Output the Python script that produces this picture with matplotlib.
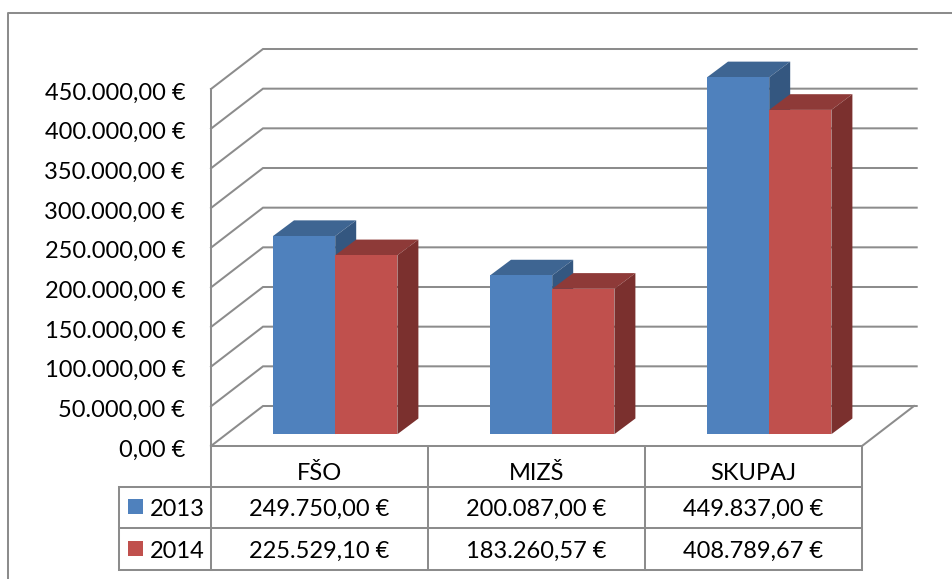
import matplotlib
matplotlib.use("Agg")
import matplotlib.pyplot as plt
from matplotlib.transforms import Affine2D, ScaledTranslation

categories = ["FŠO", "MIZŠ", "SKUPAJ"]
years = ["2013", "2014"]
values_2013 = [249750.00, 200087.00, 449837.00]
values_2014 = [225529.10, 183260.57, 408789.67]
table_2013 = ["249.750,00 €", "200.087,00 €", "449.837,00 €"]
table_2014 = ["225.529,10 €", "183.260,57 €", "408.789,67 €"]
tick_values = [0, 50000, 100000, 150000, 200000, 250000, 300000, 350000, 400000, 450000]
tick_labels = ["0,00 €", "50.000,00 €", "100.000,00 €", "150.000,00 €", "200.000,00 €",
               "250.000,00 €", "300.000,00 €", "350.000,00 €", "400.000,00 €", "450.000,00 €"]

W, H = 953, 579
GRAY = "#8C8C8C"
FONT = "Lato"
FS = 17
plt.rcParams["font.family"] = [FONT, "DejaVu Sans"]

fig = plt.figure(figsize=(W / 100, H / 100), dpi=100)
L, R, T, B = 211, 862, 89, 446
ax = fig.add_axes([L / W, 1 - B / H, (R - L) / W, (B - T) / H])
ax.set_xlim(0, 3)
ax.set_ylim(0, 450000)
ax.patch.set_visible(False)
for s in ax.spines.values():
    s.set_visible(False)
ax.set_xticks([])
ax.set_yticks(tick_values)
ax.set_yticklabels(tick_labels, fontsize=FS, color="black")
ax.tick_params(axis="y", length=0, pad=18.5)
for lab in ax.get_yticklabels():
    lab.set_transform(lab.get_transform() + ScaledTranslation(0, -1.5 / 72, fig.dpi_scale_trans))

px = Affine2D().scale(1 / W, -1 / H).translate(0, 1) + fig.transFigure


def dx(p):
    return p * 3 / (R - L)


def dy(p):
    return p * 450000 / (B - T)


LW = 1.45
# walls and gridlines
wx, wy = dx(52), dy(40)
for v in tick_values:
    ax.plot([0, wx, dx(705.7)], [v, v + wy, v + wy], color=GRAY, lw=LW, clip_on=False,
            solid_joinstyle="miter", zorder=1)
ax.plot([0, 0], [0, 450000], color=GRAY, lw=LW, clip_on=False, zorder=1)
ax.plot([3, 3 + wx], [0, wy], color=GRAY, lw=LW, clip_on=False, zorder=1)
ax.plot([0, 3], [0, 0], color=GRAY, lw=LW, clip_on=False, zorder=1)

# 3D bars
BW = dx(62.2)
bx0 = dx(62)
by0 = dy(11.8)
ddx, ddy = dx(21), dy(15.7)
series = [
    (values_2013, 0, "#4F81BD", "#3E6592", "#345780"),
    (values_2014, 1, "#C0504D", "#8E3A38", "#7B302E"),
]
for vals, k, front, top, side in series:
    for i, v in enumerate(vals):
        x0 = i + bx0 + k * BW
        x1 = x0 + BW
        y0, y1 = by0, by0 + v
        ax.fill([x0, x1, x1 + ddx, x0 + ddx], [y1, y1, y1 + ddy, y1 + ddy], color=top,
                lw=0, clip_on=False, zorder=3)
        ax.fill([x1, x1 + ddx, x1 + ddx, x1], [y0, y0 + ddy, y1 + ddy, y1], color=side,
                lw=0, clip_on=False, zorder=3)
        ax.fill([x0, x1, x1, x0], [y0, y0, y1, y1], color=front,
                lw=0, clip_on=False, zorder=3)

# outer frame
fig.add_artist(plt.Line2D([8, 8, 953], [579, 13, 13], transform=px, color=GRAY, lw=LW))

# data table
col_x = [211, 428, 645, 862]
row_y = [446, 487, 528, 570]
TL = 119
for x in col_x:
    fig.add_artist(plt.Line2D([x, x], [row_y[0], row_y[3]], transform=px, color=GRAY, lw=LW))
fig.add_artist(plt.Line2D([TL, TL], [row_y[1], row_y[3]], transform=px, color=GRAY, lw=LW))
for y in row_y[1:]:
    fig.add_artist(plt.Line2D([TL, 862], [y, y], transform=px, color=GRAY, lw=LW))

for i, c in enumerate(categories):
    cx = (col_x[i] + col_x[i + 1]) / 2
    fig.text(cx, 472, c, transform=px, ha="center", va="center_baseline", fontsize=FS)
    fig.text(cx, 507, table_2013[i], transform=px, ha="center", va="center_baseline", fontsize=FS)
    fig.text(cx, 549, table_2014[i], transform=px, ha="center", va="center_baseline", fontsize=FS)

for year, ytxt, color in [(years[0], 507, "#4F81BD"), (years[1], 549, "#C0504D")]:
    fig.add_artist(plt.Rectangle((128, ytxt - 8), 15, 15, transform=px, color=color, lw=0))
    fig.text(149.5, ytxt, year, transform=px, ha="left", va="center_baseline", fontsize=FS)

fig.savefig("out.png", dpi=100)
